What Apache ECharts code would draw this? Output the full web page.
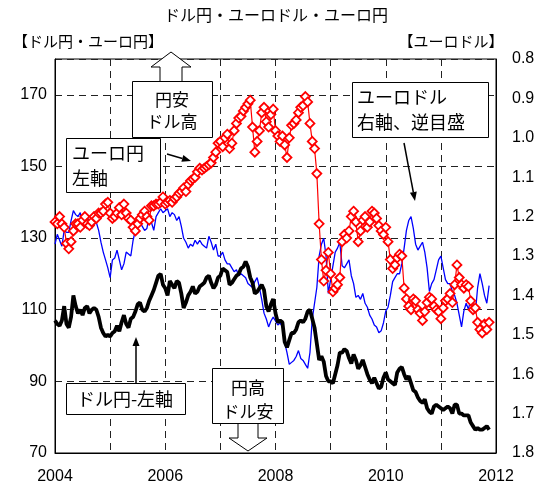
<!DOCTYPE html>
<html>
<head>
<meta charset="utf-8">
<script src="https://cdn.jsdelivr.net/npm/echarts@6/dist/echarts.min.js"></script>
<style>
  html, body { margin: 0; padding: 0; background: #fff; }
  #chart { width: 540px; height: 494px; }
</style>
</head>
<body>
<div id="chart"></div>
<script>
// 半月ごとの値 (2004年1月前半 ～ 2011年11月後半)
const startYear = 2004;
const pointsPerYear = 24;

// ドル円 (左軸)
const usdJpy = [
  107, 106, 105.5, 107, 111, 106, 105, 108, 114, 111, 109, 110, 108.5, 110.5, 111, 109, 110, 110.5, 110, 108, 105, 103.5, 102.5, 103,
  102.5, 103.5, 104, 105.5, 104, 106.5, 108.5, 106, 105, 107.5, 108, 109.5, 111.5, 112, 110, 109.5, 110.5, 112.5, 114, 115.5, 117.5, 119.5, 120, 117,
  116, 114, 118, 117, 116, 118, 117.5, 114.5, 110.5, 112, 114, 115, 116.5, 114.5, 115, 116.5, 117, 117.5, 119, 119.5, 117.5, 116, 117, 119,
  119.5, 121.5, 121, 120.5, 117, 117.5, 118.5, 119.5, 120, 121.5, 122, 123.5, 122, 119, 117.5, 114.5, 115, 116, 117, 115.5, 111, 109.5, 111.5, 113,
  109, 106.5, 107, 106.5, 101, 99.5, 101.5, 103.5, 103.5, 104.5, 106.5, 107, 106.5, 107.5, 109.5, 110, 107.5, 105, 100.5, 96, 97, 95.5, 91.5, 90,
  90, 89.5, 92, 94.5, 98, 98, 99, 98.5, 96.5, 95, 97.5, 96, 93.5, 94.5, 96, 94, 92, 90.5, 89.5, 91, 89.5, 88, 88.5, 91,
  92.5, 90.5, 90, 89.5, 89, 92.5, 93.5, 94, 92, 90.5, 91.5, 89.5, 87.5, 87, 85.5, 84.5, 84, 85, 82.5, 81.5, 81, 83, 83.5, 83,
  82.5, 82, 82.5, 83, 82.5, 81, 83.5, 83.5, 81, 81, 80.5, 80.5, 80.5, 78.5, 77.5, 76.5, 77, 76.5, 76.5, 77, 77.5, 76.5
];

// ユーロ円 (左軸)
const eurJpy = [
  134.5, 134, 136, 134, 133, 128.5, 127, 129, 132, 134, 134, 133, 135, 136, 134, 133.5, 134.5, 136, 135.5, 137, 137, 137.5, 139.5, 140,
  137, 135.5, 136, 137, 138.5, 136.5, 139.5, 137, 135.5, 135, 133, 132, 134, 135.5, 136.5, 137.5, 136, 135, 139, 139, 139.5, 139.5, 140, 141.5,
  139.5, 140, 140.5, 140, 141, 141.5, 142.5, 143, 144, 143, 145, 146, 146.5, 147, 148.5, 149.5, 149, 149.5, 150, 150.5, 151, 152.5, 154, 156.5,
  157, 155.5, 158, 159, 155, 156.5, 160, 162, 163.5, 164, 165.5, 166.5, 167.5, 168.5, 161, 154, 157, 160, 165, 166.5, 162.5, 161, 164.5, 166,
  160, 158.5, 157, 158.5, 156, 152.5, 158, 161.5, 162, 163, 165, 166.5, 167, 169.5, 168, 162, 157, 155, 148, 134, 124, 118, 121, 126,
  120, 115, 116, 117, 119, 129, 131, 130, 132, 136, 137.5, 134.5, 129, 132, 135, 136, 133, 134.5, 137.5, 137, 135.5, 133.5, 132, 131,
  133, 129, 124, 121.5, 122.5, 124.5, 125.5, 125, 116, 113, 111, 110, 113, 112.5, 110, 109, 107, 109.5, 112, 113.5, 113, 111, 110, 109.5,
  107.5, 110.5, 112.5, 113, 114.5, 112, 117, 122.5, 119, 117, 116, 117, 116.5, 112.5, 110, 110.5, 106.5, 104.5, 103.5, 106, 104.5, 106.5
];

// ユーロドル (右軸、逆目盛)
const eurUsd = [
  1.27, 1.245, 1.26, 1.275, 1.235, 1.24, 1.24, 1.21, 1.185, 1.195, 1.20, 1.19, 1.225, 1.21, 1.20, 1.215, 1.23, 1.22, 1.215, 1.235, 1.265, 1.29, 1.31, 1.33,
  1.355, 1.31, 1.305, 1.285, 1.31, 1.335, 1.32, 1.29, 1.295, 1.30, 1.26, 1.235, 1.20, 1.215, 1.225, 1.235, 1.23, 1.20, 1.215, 1.235, 1.20, 1.19, 1.18, 1.19,
  1.185, 1.18, 1.20, 1.19, 1.195, 1.21, 1.20, 1.225, 1.255, 1.265, 1.28, 1.27, 1.275, 1.26, 1.27, 1.26, 1.27, 1.275, 1.28, 1.25, 1.265, 1.285, 1.27, 1.30,
  1.30, 1.29, 1.31, 1.32, 1.32, 1.33, 1.34, 1.335, 1.35, 1.345, 1.35, 1.355, 1.37, 1.375, 1.38, 1.365, 1.355, 1.38, 1.41, 1.445, 1.46, 1.48, 1.465, 1.455,
  1.465, 1.475, 1.47, 1.48, 1.52, 1.545, 1.575, 1.57, 1.565, 1.555, 1.54, 1.56, 1.565, 1.575, 1.585, 1.545, 1.46, 1.42, 1.38, 1.30, 1.27, 1.255, 1.30, 1.395,
  1.36, 1.325, 1.29, 1.28, 1.265, 1.325, 1.33, 1.32, 1.31, 1.35, 1.37, 1.405, 1.40, 1.41, 1.395, 1.42, 1.43, 1.45, 1.46, 1.475, 1.48, 1.495, 1.49, 1.47,
  1.44, 1.43, 1.40, 1.365, 1.355, 1.345, 1.345, 1.32, 1.28, 1.235, 1.21, 1.20, 1.23, 1.27, 1.285, 1.275, 1.265, 1.29, 1.33, 1.39, 1.37, 1.36, 1.335, 1.31,
  1.30, 1.33, 1.36, 1.37, 1.37, 1.39, 1.40, 1.42, 1.45, 1.48, 1.44, 1.42, 1.435, 1.41, 1.42, 1.445, 1.38, 1.345, 1.37, 1.40, 1.42, 1.375
];

const yearLabels = [2004, 2006, 2008, 2010, 2012];

const toPairs = (arr) => arr.map((v, i) => [startYear + i / pointsPerYear, v]);

const jpFont = '"Noto Sans CJK JP", sans-serif';
const numFont = '"Liberation Sans", Arial, sans-serif';

// 注記用の矢印
function arrow(x1, y1, x2, y2) {
  const a = Math.atan2(y2 - y1, x2 - x1);
  const L = 9, W = 3.5;
  const bx = x2 - L * Math.cos(a), by = y2 - L * Math.sin(a);
  return [
    { type: 'line', z: 100, shape: { x1: x1, y1: y1, x2: bx, y2: by }, style: { stroke: '#000', lineWidth: 1.5 } },
    { type: 'polygon', z: 100, shape: { points: [[x2, y2], [bx + W * Math.sin(a), by - W * Math.cos(a)], [bx - W * Math.sin(a), by + W * Math.cos(a)]] }, style: { fill: '#000' } }
  ];
}

function box(x, y, w, h) {
  return { type: 'rect', z: 100, shape: { x: x + 0.5, y: y + 0.5, width: w, height: h }, style: { fill: '#fff', stroke: '#000', lineWidth: 1 } };
}

function label(text, x, y, size, align) {
  return {
    type: 'text', z: 101, x: x, y: y,
    style: { text: text, font: size + 'px ' + jpFont, fill: '#000', textAlign: align || 'center', align: align || 'center', textVerticalAlign: 'middle', verticalAlign: 'middle' }
  };
}

const chart = echarts.init(document.getElementById('chart'));
chart.setOption({
  animation: false,
  backgroundColor: '#fff',
  grid: { left: 55, right: 44, top: 59, bottom: 41, show: true, borderColor: '#000', borderWidth: 1 },
  xAxis: {
    type: 'value', min: 2004, max: 2012, interval: 1,
    axisLine: { show: true, lineStyle: { color: '#000', width: 1 } },
    axisTick: { show: false },
    axisLabel: {
      color: '#000', fontSize: 16, fontFamily: numFont, margin: 16,
      formatter: (v) => yearLabels.indexOf(v) >= 0 ? String(v) : ''
    },
    splitLine: { show: true, lineStyle: { color: '#222', type: [7, 5], width: 1 } }
  },
  yAxis: [
    {
      type: 'value', min: 70, max: 180, interval: 20,
      axisLine: { show: true, lineStyle: { color: '#000', width: 1 } },
      axisTick: { show: false },
      axisLabel: { color: '#000', fontSize: 16, fontFamily: numFont, margin: 8, showMaxLabel: false },
      splitLine: { show: true, lineStyle: { color: '#222', type: [7, 5], width: 1 } }
    },
    {
      type: 'value', min: 0.8, max: 1.8, interval: 0.1, inverse: true, position: 'right',
      axisLine: { show: true, lineStyle: { color: '#000', width: 1 } },
      axisTick: { show: false },
      axisLabel: { color: '#000', fontSize: 16, fontFamily: numFont, margin: 16, formatter: (v) => v.toFixed(1) },
      splitLine: { show: false }
    }
  ],
  series: [
    {
      name: 'ユーロドル', type: 'line', yAxisIndex: 1, data: toPairs(eurUsd),
      symbol: 'none', lineStyle: { color: '#0000ff', width: 1.3 }, z: 2
    },
    {
      name: 'ドル円', type: 'line', yAxisIndex: 0, data: toPairs(usdJpy),
      symbol: 'none', lineStyle: { color: '#000', width: 3.8 }, z: 3
    },
    {
      name: 'ユーロ円', type: 'line', yAxisIndex: 0, data: toPairs(eurJpy),
      symbol: 'diamond', symbolSize: 9, showSymbol: true,
      itemStyle: { color: '#fff', borderColor: '#ff0000', borderWidth: 1.8 },
      lineStyle: { color: '#ff0000', width: 1.2 }, z: 4
    }
  ],
  graphic: [
    label('ドル円・ユーロドル・ユーロ円', 276, 15, 16),
    label('【ドル円・ユーロ円】', 88, 41, 15),
    label('【ユーロドル】', 451, 41, 15),
    // 円安ドル高
    { type: 'polygon', z: 99, shape: { points: [[160, 82], [160, 67], [151, 67], [171, 52], [191, 67], [182, 67], [182, 82]] }, style: { fill: '#fff', stroke: '#000', lineWidth: 1 } },
    box(132, 81, 80, 56),
    label('円安', 172, 100, 17),
    label('ドル高', 172, 122, 17),
    // ユーロ円 左軸
    box(66, 138, 94, 54),
    label('ユーロ円', 72, 153, 18, 'left'),
    label('左軸', 72, 178, 18, 'left'),
    ...arrow(167, 154, 191, 161),
    // ユーロドル 右軸、逆目盛
    box(352, 82, 136, 55),
    label('ユーロドル', 357, 97, 18, 'left'),
    label('右軸、逆目盛', 357, 122, 18, 'left'),
    ...arrow(404, 143, 415, 201),
    // ドル円-左軸
    box(66, 383, 119, 31),
    label('ドル円-左軸', 125, 399, 18),
    ...arrow(136, 383, 136, 337),
    // 円高ドル安
    { type: 'polygon', z: 99, shape: { points: [[238, 423], [238, 438], [229, 438], [248, 451], [267, 438], [258, 438], [258, 423]] }, style: { fill: '#fff', stroke: '#000', lineWidth: 1 } },
    box(212, 368, 71, 55),
    label('円高', 248, 388, 17),
    label('ドル安', 248, 412, 17)
  ]
});
</script>
</body>
</html>
